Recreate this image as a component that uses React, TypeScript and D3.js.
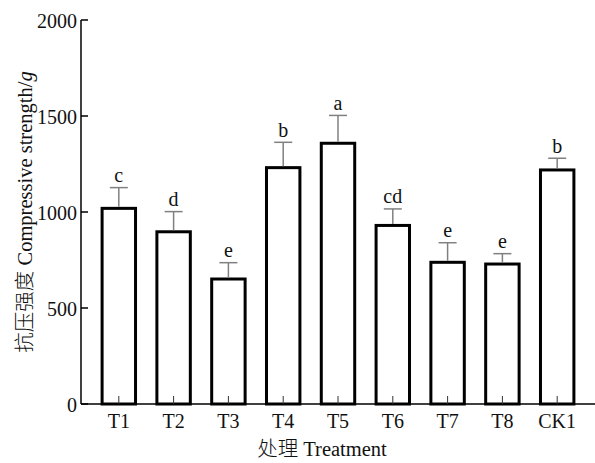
import * as d3 from "d3";

// chart data
const treatments = ["T1", "T2", "T3", "T4", "T5", "T6", "T7", "T8", "CK1"];
const means = [1019, 897, 651, 1231, 1358, 930, 738, 729, 1219];
const errors = [108, 105, 85, 132, 145, 86, 102, 54, 61];
const letters = ["c", "d", "e", "b", "a", "cd", "e", "e", "b"];
const yTicks = [0, 500, 1000, 1500, 2000];

const width = 595;
const height = 463;
const marginLeft = 81;
const marginRight = 0;
const marginTop = 20;
const plotBottom = 404;

const serif = "Liberation Serif";
const cjk = "Noto Sans CJK SC";

const App = () => {
  const x = d3
    .scaleBand()
    .domain(treatments)
    .range([marginLeft, width - marginRight])
    .paddingInner(0.39)
    .paddingOuter(0.385);

  const y = d3.scaleLinear().domain([0, 2000]).range([plotBottom, marginTop]);

  const capHalf = 9;

  return (
    <svg
      width={width}
      height={height}
      style={{ position: "absolute", left: 0, top: 0, background: "#fff" }}
    >
      {/* bars */}
      {treatments.map((t, i) => (
        <rect
          key={t}
          x={x(t)}
          y={y(means[i])}
          width={x.bandwidth()}
          height={y(0) - y(means[i])}
          fill="#fff"
          stroke="#000"
          strokeWidth={3}
        />
      ))}

      {/* error bars */}
      {treatments.map((t, i) => {
        const cx = (x(t) as number) + x.bandwidth() / 2;
        const top = y(means[i] + errors[i]);
        return (
          <g key={"e" + t} stroke="#808080" strokeWidth={1.5}>
            <line x1={cx} x2={cx} y1={y(means[i]) - 1.5} y2={top} />
            <line x1={cx - capHalf} x2={cx + capHalf} y1={top} y2={top} />
          </g>
        );
      })}

      {/* significance letters */}
      {treatments.map((t, i) => (
        <text
          key={"l" + t}
          x={(x(t) as number) + x.bandwidth() / 2}
          y={y(means[i] + errors[i]) - 5.5}
          textAnchor="middle"
          fontFamily={serif}
          fontSize={20}
          fill="#111"
        >
          {letters[i]}
        </text>
      ))}

      {/* x axis */}
      <line x1={marginLeft} x2={width} y1={plotBottom} y2={plotBottom} stroke="#000" strokeWidth={1.5} />
      {treatments.map((t) => {
        const cx = (x(t) as number) + x.bandwidth() / 2;
        return (
          <g key={"xt" + t}>
            <line x1={cx} x2={cx} y1={plotBottom} y2={plotBottom - 8} stroke="#333" strokeWidth={1} />
            <text x={cx} y={428} textAnchor="middle" fontFamily={serif} fontSize={20} fill="#111">
              {t}
            </text>
          </g>
        );
      })}

      {/* y axis */}
      <line x1={marginLeft} x2={marginLeft} y1={marginTop} y2={plotBottom} stroke="#000" strokeWidth={1.5} />
      {yTicks.map((v) => (
        <g key={"yt" + v}>
          <line x1={marginLeft} x2={marginLeft + 7} y1={y(v)} y2={y(v)} stroke="#000" strokeWidth={1.5} />
          <text x={77} y={y(v)} dy="0.42em" textAnchor="end" fontFamily={serif} fontSize={20} fill="#111">
            {v}
          </text>
        </g>
      ))}

      {/* axis titles */}
      <text x={322} y={456} textAnchor="middle" fontFamily={serif} fontSize={20.5} fill="#111">
        <tspan fontFamily={cjk} fontWeight={300}>处理</tspan> Treatment
      </text>
      <text
        transform="translate(32,212) rotate(-90)"
        textAnchor="middle"
        fontFamily={serif}
        fontSize={20.5}
        fill="#111"
      >
        <tspan fontFamily={cjk} fontWeight={300}>抗压强度</tspan> Compressive strength/<tspan fontStyle="italic">g</tspan>
      </text>
    </svg>
  );
};

export default App;
